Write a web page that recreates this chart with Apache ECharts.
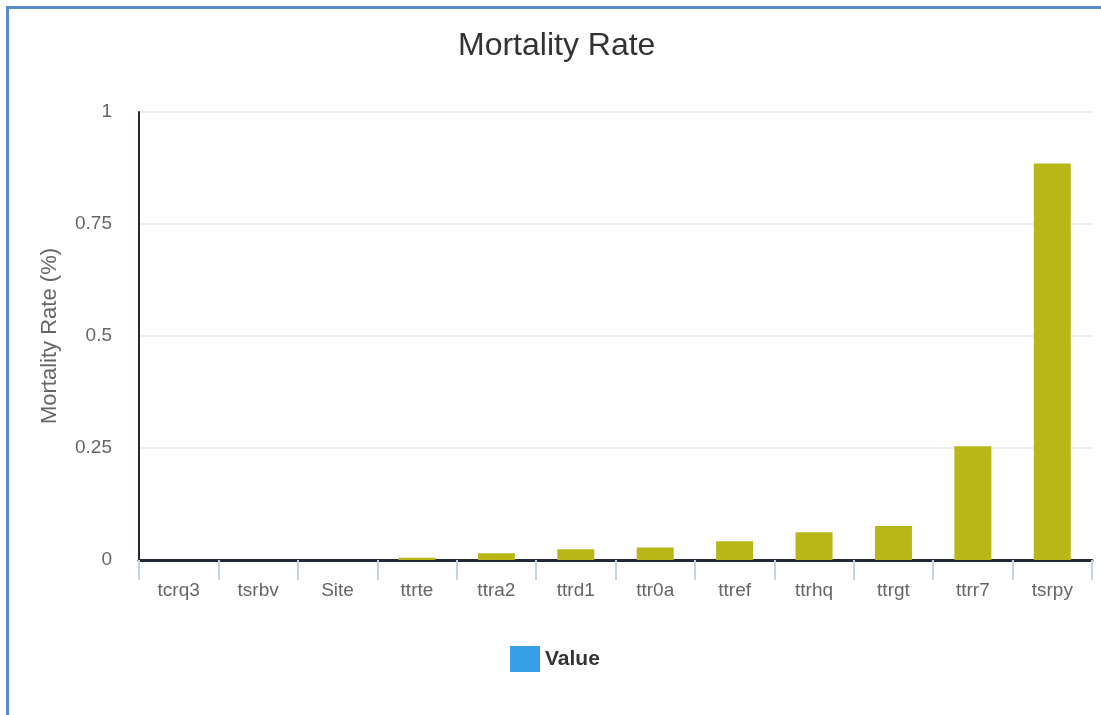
<!DOCTYPE html>
<html>
<head>
<meta charset="utf-8">
<script src="https://cdn.jsdelivr.net/npm/echarts@6/dist/echarts.min.js"></script>
<style>
html,body{margin:0;padding:0;background:#fff;overflow:hidden;}
#frame{position:absolute;left:6px;top:6px;width:1200px;height:800px;border-left:3px solid #5a8ac8;border-top:3px solid #5a8ac8;}
#chart{position:absolute;left:0;top:0;width:1101px;height:715px;}
</style>
</head>
<body>
<div id="frame"></div>
<div id="chart"></div>
<script>
const categories = ['tcrq3','tsrbv','Site','ttrte','ttra2','ttrd1','ttr0a','ttref','ttrhq','ttrgt','ttrr7','tsrpy'];
const values = [0, 0, 0, 0.005, 0.015, 0.024, 0.028, 0.042, 0.062, 0.076, 0.254, 0.885];
const yTicks = [0, 0.25, 0.5, 0.75, 1];

const chart = echarts.init(document.getElementById('chart'));
chart.setOption({
  animation: false,
  textStyle: { fontFamily: 'Liberation Sans, Arial, sans-serif' },
  title: {
    text: 'Mortality Rate',
    left: 458,
    top: 30,
    padding: 0,
    textStyle: { fontSize: 32, fontWeight: 'normal', color: '#333', fontFamily: 'Liberation Sans, Arial, sans-serif' }
  },
  legend: {
    bottom: 38,
    left: 505,
    itemWidth: 30,
    itemHeight: 26,
    itemGap: 10,
    data: [{ name: 'Value', icon: 'rect', itemStyle: { color: '#379fe8' } }],
    textStyle: { fontSize: 21, fontWeight: 'bold', color: '#333', fontFamily: 'Liberation Sans, Arial, sans-serif' }
  },
  grid: { left: 139, right: 9, top: 112, bottom: 155, containLabel: false },
  xAxis: {
    type: 'category',
    data: categories,
    axisLine: { lineStyle: { color: '#222a35', width: 3 } },
    axisTick: { show: true, length: 20, lineStyle: { color: '#c3d3e6', width: 2 } },
    axisLabel: { fontSize: 19, color: '#666', margin: 21 }
  },
  yAxis: {
    type: 'value',
    min: yTicks[0],
    max: yTicks[yTicks.length - 1],
    interval: 0.25,
    name: 'Mortality Rate (%)',
    nameLocation: 'middle',
    nameGap: 78,
    nameTextStyle: { fontSize: 22, color: '#666' },
    axisLine: { show: true, lineStyle: { color: '#222a35', width: 2 } },
    axisTick: { show: false },
    axisLabel: { fontSize: 19, color: '#666', margin: 27 },
    splitLine: { lineStyle: { color: '#eeeeee', width: 2 } }
  },
  series: [{
    name: 'Value',
    type: 'bar',
    data: values,
    barWidth: 37,
    itemStyle: { color: '#b8b717' }
  }]
});
</script>
</body>
</html>
